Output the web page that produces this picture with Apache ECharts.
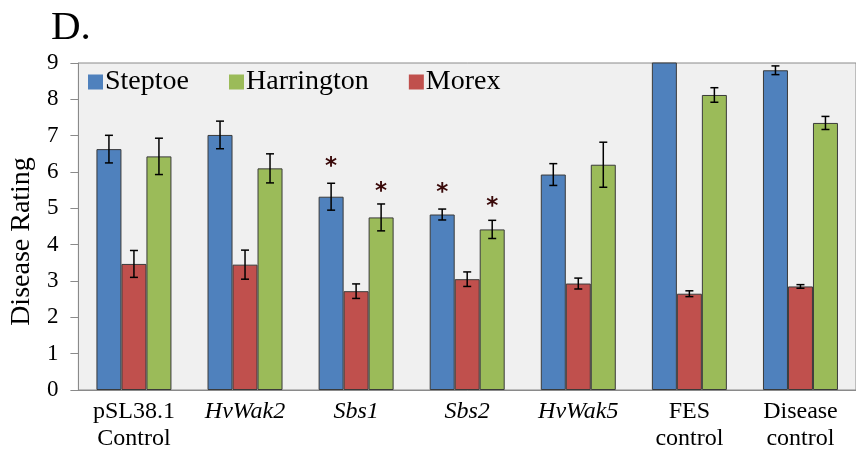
<!DOCTYPE html>
<html>
<head>
<meta charset="utf-8">
<script src="https://cdn.jsdelivr.net/npm/echarts@6/dist/echarts.min.js"></script>
<style>
  html, body { margin: 0; padding: 0; background: #fff; }
  #chart { width: 856px; height: 454px; }
</style>
</head>
<body>
<div id="chart"></div>
<script>
// categories and values
var categories = ['pSL38.1\nControl', 'HvWak2', 'Sbs1', 'Sbs2', 'HvWak5', 'FES\ncontrol', 'Disease\ncontrol']
var italicCats = ['HvWak2', 'Sbs1', 'Sbs2', 'HvWak5']
var yTicks = [0, 1, 2, 3, 4, 5, 6, 7, 8, 9]

var steptoe = [6.63, 7.02, 5.32, 4.83, 5.93, 9.4, 8.8]
var steptoeErr = [0.38, 0.38, 0.37, 0.15, 0.3, 0, 0.12]
var morex = [3.47, 3.45, 2.72, 3.05, 2.93, 2.65, 2.85]
var morexErr = [0.37, 0.4, 0.2, 0.2, 0.15, 0.08, 0.05]
var harrington = [6.43, 6.1, 4.75, 4.42, 6.2, 8.12, 7.35]
var harringtonErr = [0.5, 0.4, 0.37, 0.25, 0.62, 0.2, 0.18]

// significance marks (height of the asterisk)
var steptoeStar = [null, null, 6.25, 5.53, null, null, null]
var harringtonStar = [null, null, 5.56, 5.15, null, null, null]

var serif = 'Liberation Serif'
var barW = 25

function errData(vals, errs) {
  return vals.map(function (v, i) {
    return [i, v - errs[i], v + errs[i], errs[i]]
  })
}

function starData(arr) {
  var out = []
  arr.forEach(function (v, i) {
    if (v != null) out.push([i, v])
  })
  return out
}

function errSeries(vals, errs, slot) {
  return {
    type: 'custom',
    silent: true,
    z: 5,
    data: errData(vals, errs),
    renderItem: function (params, api) {
      if (api.value(3) <= 0) return
      var lo = api.coord([api.value(0), api.value(1)])
      var hi = api.coord([api.value(0), api.value(2)])
      var x = lo[0] + slot * barW
      var cap = 4
      var st = { stroke: '#000', lineWidth: 1.5 }
      return {
        type: 'group',
        children: [
          { type: 'line', shape: { x1: x, y1: lo[1], x2: x, y2: hi[1] }, style: st },
          { type: 'line', shape: { x1: x - cap, y1: lo[1], x2: x + cap, y2: lo[1] }, style: st },
          { type: 'line', shape: { x1: x - cap, y1: hi[1], x2: x + cap, y2: hi[1] }, style: st }
        ]
      }
    }
  }
}

function starSeries(arr, slot) {
  return {
    type: 'custom',
    silent: true,
    z: 6,
    data: starData(arr),
    renderItem: function (params, api) {
      var p = api.coord([api.value(0), api.value(1)])
      return {
        type: 'text',
        x: p[0] + slot * barW,
        y: p[1] + 4,
        style: {
          text: '*',
          fill: '#3a0a0a',
          font: 'bold 23px "DejaVu Sans"',
          align: 'center',
          verticalAlign: 'middle'
        }
      }
    }
  }
}

function barItem(color) {
  return { color: color, borderColor: '#3a3a3a', borderWidth: 1 }
}

var myChart = echarts.init(document.getElementById('chart'))
myChart.setOption({
  animation: false,
  backgroundColor: '#fff',
  title: {
    text: 'D.',
    left: 46,
    top: 3,
    textStyle: { fontFamily: serif, fontWeight: 'normal', fontSize: 41, color: '#000' }
  },
  legend: {
    data: ['Steptoe', 'Harrington', 'Morex'],
    left: 83,
    top: 63,
    itemWidth: 15,
    itemHeight: 15,
    itemGap: 40,
    icon: 'rect',
    itemStyle: { borderWidth: 0 },
    textStyle: { fontFamily: serif, fontSize: 28, color: '#000', padding: [0, 0, 0, -3] }
  },
  grid: {
    left: 77,
    top: 63,
    width: 784,
    bottom: 64,
    show: true,
    backgroundColor: '#f0f0f0',
    borderColor: '#8a8a8a',
    borderWidth: 1
  },
  xAxis: {
    type: 'category',
    data: categories,
    axisLine: { lineStyle: { color: '#8a8a8a' } },
    axisTick: { show: false },
    axisLabel: {
      margin: 8,
      interval: 0,
      formatter: function (v) {
        var tag = italicCats.indexOf(v) >= 0 ? 'i' : 'n'
        return v.split('\n').map(function (l) { return '{' + tag + '|' + l + '}' }).join('\n')
      },
      rich: {
        n: { fontFamily: serif, fontSize: 24, color: '#000', lineHeight: 27 },
        i: { fontFamily: serif, fontSize: 24, fontStyle: 'italic', color: '#000', lineHeight: 27 }
      }
    }
  },
  yAxis: {
    type: 'value',
    min: yTicks[0],
    max: yTicks[yTicks.length - 1],
    interval: 1,
    name: 'Disease Rating',
    nameLocation: 'middle',
    nameGap: 38,
    nameTextStyle: { fontFamily: serif, fontSize: 28, color: '#000', padding: [0, 30, 0, 0] },
    axisLine: { show: true, lineStyle: { color: '#8a8a8a' } },
    axisTick: { show: true, length: 8, lineStyle: { color: '#8a8a8a' } },
    splitLine: { show: false },
    axisLabel: { fontFamily: serif, fontSize: 23, color: '#000', margin: 20 }
  },
  series: [
    { name: 'Steptoe', type: 'bar', barWidth: barW, barGap: '0%', data: steptoe, itemStyle: barItem('#4f81bd') },
    { name: 'Morex', type: 'bar', barWidth: barW, barGap: '0%', data: morex, itemStyle: barItem('#c0504d') },
    { name: 'Harrington', type: 'bar', barWidth: barW, barGap: '0%', data: harrington, itemStyle: barItem('#9bbb59') },
    errSeries(steptoe, steptoeErr, -1),
    errSeries(morex, morexErr, 0),
    errSeries(harrington, harringtonErr, 1),
    starSeries(steptoeStar, -1),
    starSeries(harringtonStar, 1)
  ]
})
</script>
</body>
</html>
